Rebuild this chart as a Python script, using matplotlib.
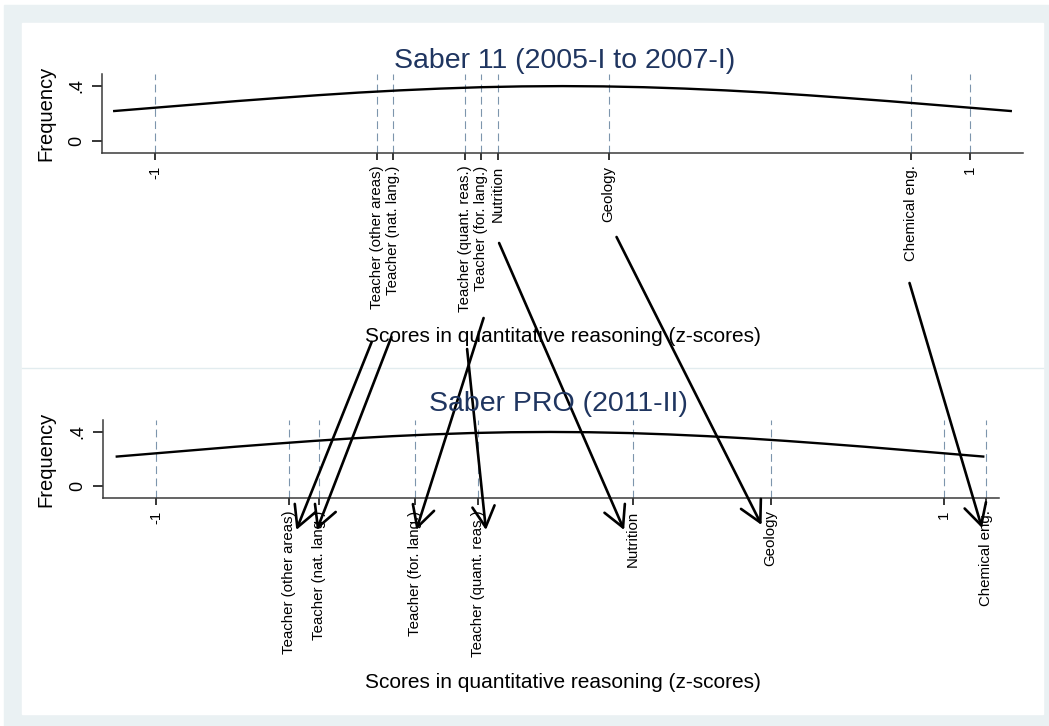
import matplotlib
matplotlib.use("Agg")
import matplotlib.pyplot as plt
import matplotlib.transforms as mtransforms
from matplotlib.lines import Line2D
from matplotlib.patches import Rectangle

plt.rcParams["font.family"] = ["Liberation Sans", "DejaVu Sans"]

# programme averages on the quantitative reasoning scale (z-scores)
programs = [
    "Teacher (other areas)",
    "Teacher (nat. lang.)",
    "Teacher (quant. reas.)",
    "Teacher (for. lang.)",
    "Nutrition",
    "Geology",
    "Chemical eng.",
]
z_saber11 = [-0.456, -0.415, -0.239, -0.201, -0.158, 0.113, 0.854]
z_saberpro = [-0.662, -0.587, -0.183, -0.342, 0.211, 0.560, 1.107]

# density curve of the score distribution
grid_z = [-1.1, -1.0, -0.9, -0.8, -0.7, -0.6, -0.5, -0.4, -0.3, -0.2, -0.1, 0.0,
          0.1, 0.2, 0.3, 0.4, 0.5, 0.6, 0.7, 0.8, 0.9, 1.0, 1.1]
density_saber11 = [0.218, 0.242, 0.266, 0.290, 0.312, 0.333, 0.352, 0.368, 0.381, 0.391, 0.397, 0.399,
                   0.397, 0.391, 0.381, 0.368, 0.352, 0.333, 0.312, 0.290, 0.266, 0.242, 0.218]
density_saberpro = [0.218, 0.242, 0.266, 0.290, 0.312, 0.333, 0.352, 0.368, 0.381, 0.391, 0.397, 0.399,
                    0.397, 0.391, 0.381, 0.368, 0.352, 0.333, 0.312, 0.290, 0.266, 0.242, 0.218]

W, H = 1049, 726
BG = "#eaf1f3"
NAVY = "#1f3560"
DASH = "#7d95ad"

# arrow anchors in pixels (start below the upper labels, tip below the lower axis)
arrow_start_px = [342, 337, 349, 318, 243, 237, 283]
arrow_end_px = [530, 530, 530, 530, 530, 525, 528]
# small horizontal nudges of the arrow ends, in pixels
arrow_start_dx = [-5, -2, 2, 3, 1, 8, -1]
arrow_end_dx = [7, -2, 8, 1, -9, -9, -4]


def fx(px):
    return px / W


def fy(py):
    return 1 - py / H


fig = plt.figure(figsize=(W / 100, H / 100), dpi=100)
fig.patch.set_facecolor("white")
fig.add_artist(Rectangle((fx(4), 0), 1, fy(5), transform=fig.transFigure, color=BG, zorder=0))
fig.add_artist(Rectangle((fx(22), fy(714)), fx(1043 - 22), (714 - 23) / H,
                         transform=fig.transFigure, color="white", zorder=0))
fig.add_artist(Line2D([fx(22), fx(1043)], [fy(368), fy(368)], transform=fig.transFigure,
                      color="#e2ecef", lw=1.0, zorder=0))

ax_top = fig.add_axes([fx(102), fy(153), fx(1023 - 102), (153 - 74) / H])
ax_bot = fig.add_axes([fx(103), fy(498), fx(999 - 103), (498 - 420) / H])


def draw_panel(ax, title, positions, density, xlim, title_xy, ylabel_x):
    ax.set_facecolor("none")
    ax.plot(grid_z, density, color="black", lw=1.7, zorder=3)
    ticks = [-1, 1] + positions
    for t in ticks:
        ax.axvline(t, color=DASH, lw=0.8, ls=(0, (7, 4)), zorder=1)
    ax.set_xticks(ticks)
    ax.set_xticklabels(["-1", "1"] + programs, rotation=90, fontsize=10.8)
    ax.set_yticks([0, 0.4])
    ax.set_yticklabels(["0", ".4"], rotation=90, va="center", fontsize=13)
    ax.set_xlim(*xlim)
    ax.set_ylim(-0.087, 0.487)
    ax.tick_params(axis="x", length=5, width=1.1, pad=4, colors="black")
    ax.tick_params(axis="y", length=7, width=1.1, pad=5, colors="black")
    for side in ("top", "right"):
        ax.spines[side].set_visible(False)
    for side in ("left", "bottom"):
        ax.spines[side].set_color("#3a3a3a")
        ax.spines[side].set_linewidth(1.1)
    ax.set_ylabel("Frequency", fontsize=14.5)
    ax.yaxis.set_label_coords(ylabel_x, 0.5)
    fig.text(fx(title_xy[0]), fy(title_xy[1]), title, ha="center", va="center",
             fontsize=20.5, color=NAVY)


draw_panel(ax_top, "Saber 11 (2005-I to 2007-I)", z_saber11, density_saber11,
           (-1.13, 1.13), (565, 61), (55 - 102) / 921)
draw_panel(ax_bot, "Saber PRO (2011-II)", z_saberpro, density_saberpro,
           (-1.135, 1.14), (558, 404), (55 - 103) / 896)

xlabel = "Scores in quantitative reasoning (z-scores)"
fig.text(fx(563), fy(336), xlabel, ha="center", va="center", fontsize=15)
fig.text(fx(563), fy(682), xlabel, ha="center", va="center", fontsize=15)

# arrows from each programme's Saber 11 position to its Saber PRO position
top_tr = mtransforms.blended_transform_factory(ax_top.transData, ax_top.transAxes)
bot_tr = mtransforms.blended_transform_factory(ax_bot.transData, ax_bot.transAxes)
for z0, z1, y0, y1, dx0, dx1 in zip(z_saber11, z_saberpro, arrow_start_px, arrow_end_px,
                                    arrow_start_dx, arrow_end_dx):
    start_tr = top_tr + mtransforms.Affine2D().translate(dx0, 0)
    end_tr = bot_tr + mtransforms.Affine2D().translate(dx1, 0)
    ax_bot.annotate("", xy=(z1, (498 - y1) / 78), xycoords=end_tr,
                    xytext=(z0, (153 - y0) / 79), textcoords=start_tr,
                    arrowprops=dict(arrowstyle="->,head_length=1.5,head_width=0.8",
                                    color="black", lw=1.9, shrinkA=0, shrinkB=0),
                    annotation_clip=False, zorder=5)

fig.savefig("out.png", dpi=100, facecolor=fig.get_facecolor())
